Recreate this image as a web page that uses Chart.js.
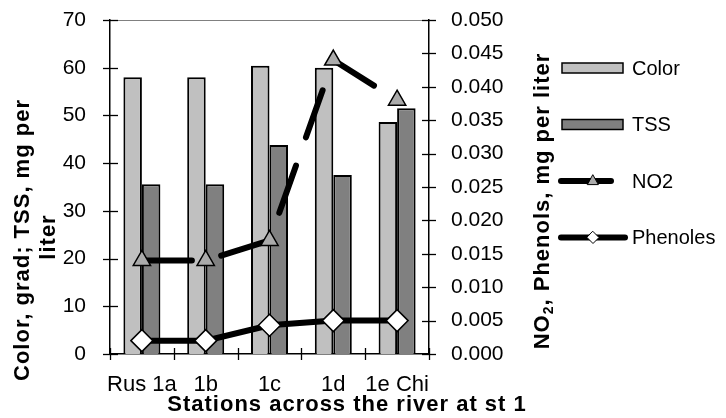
<!DOCTYPE html>
<html>
<head>
<meta charset="utf-8">
<script src="https://cdn.jsdelivr.net/npm/chart.js@4/dist/chart.umd.min.js"></script>
<style>
  html, body { margin: 0; padding: 0; background: #fff; }
</style>
</head>
<body>
<canvas id="graficoRio" width="726" height="418"></canvas>
<script>
// Estaciones y mediciones
const estaciones = ["Rus 1a", "1b", "1c", "1d", "1e Chi"];
const color = [58.0, 58.0, 60.4, 60.0, 48.6];
const tss = [35.6, 35.6, 43.8, 37.5, 51.5];
const no2 = [0.014, 0.014, 0.017, 0.044, 0.038];
const fenoles = [0.002, 0.002, 0.0043, 0.005, 0.005];

const familia = "'Liberation Sans', Arial, sans-serif";

function linea(ctx, x1, y1, x2, y2) {
    ctx.beginPath();
    ctx.moveTo(x1, y1);
    ctx.lineTo(x2, y2);
    ctx.stroke();
}

function marcador(ctx, estilo, x, y, r) {
    ctx.beginPath();
    if (estilo === "triangle") {
        ctx.moveTo(x, y - r);
        ctx.lineTo(x + r * 0.9, y + r * 0.6);
        ctx.lineTo(x - r * 0.9, y + r * 0.6);
    } else {
        ctx.moveTo(x, y - r);
        ctx.lineTo(x + r, y);
        ctx.lineTo(x, y + r);
        ctx.lineTo(x - r, y);
    }
    ctx.closePath();
    ctx.fill();
    ctx.stroke();
}

// tamaño fijo de cada eje, sin el margen extra de las etiquetas
function fijar(ancho, alto) {
    return s => {
        if (ancho) s.width = ancho;
        if (alto) s.height = alto;
        s.paddingTop = 0;
        s.paddingBottom = 0;
        s.paddingLeft = 0;
        s.paddingRight = 0;
    };
}

// Marcas en cruz, borde superior, títulos de ejes y leyenda
const extras = {
    id: "extras",
    afterDraw(chart) {
        const ctx = chart.ctx;
        const area = chart.chartArea;
        const {x, y, y2} = chart.scales;

        ctx.save();

        ctx.strokeStyle = "#808080";
        ctx.lineWidth = 1;
        linea(ctx, area.left, area.top + 0.5, area.right, area.top + 0.5);

        ctx.strokeStyle = "#000";
        ctx.lineWidth = 1.3;
        y.ticks.forEach((t, i) => {
            const py = Math.round(y.getPixelForTick(i)) + 0.5;
            linea(ctx, area.left - 7, py, area.left + 8, py);
        });
        y2.ticks.forEach((t, i) => {
            const py = Math.round(y2.getPixelForTick(i)) + 0.5;
            linea(ctx, area.right - 7, py, area.right + 7, py);
        });
        for (let i = 0; i <= estaciones.length; i++) {
            const px = Math.round(x.getPixelForValue(i - 0.5)) + 0.5;
            linea(ctx, px, area.bottom - 6, px, area.bottom + 6);
        }

        // Títulos
        ctx.fillStyle = "#000";
        ctx.textAlign = "center";
        ctx.textBaseline = "middle";
        ctx.font = "bold 22px " + familia;
        ctx.letterSpacing = "1px";

        ctx.fillText("Stations across the river at st 1", 347, 405);

        ctx.save();
        ctx.translate(23, 240);
        ctx.rotate(-Math.PI / 2);
        ctx.fillText("Color, grad; TSS, mg per", 0, 0);
        ctx.restore();

        ctx.save();
        ctx.translate(49, 237);
        ctx.rotate(-Math.PI / 2);
        ctx.fillText("liter", 0, 0);
        ctx.restore();

        ctx.save();
        ctx.translate(543, 201);
        ctx.rotate(-Math.PI / 2);
        ctx.textAlign = "left";
        const fNormal = "bold 22px " + familia;
        const fSub = "bold 14px " + familia;
        ctx.font = fNormal;
        const w1 = ctx.measureText("NO").width;
        const resto = ", Phenols, mg per liter";
        const w3 = ctx.measureText(resto).width;
        ctx.font = fSub;
        const w2 = ctx.measureText("2").width;
        let x0 = -(w1 + w2 + w3) / 2;
        ctx.font = fNormal;
        ctx.fillText("NO", x0, 0);
        ctx.font = fSub;
        ctx.fillText("2", x0 + w1, 6);
        ctx.font = fNormal;
        ctx.fillText(resto, x0 + w1 + w2, 0);
        ctx.restore();

        // Leyenda
        ctx.letterSpacing = "0px";
        ctx.font = "20px " + familia;
        ctx.textAlign = "left";
        chart.data.datasets.forEach((ds, i) => {
            const cy = 68 + i * 56.5;
            if (ds.type === "bar") {
                ctx.fillStyle = ds.backgroundColor;
                ctx.fillRect(562, cy - 5, 61, 10);
                ctx.strokeStyle = "#000";
                ctx.lineWidth = 1.5;
                ctx.strokeRect(562, cy - 5, 61, 10);
            } else {
                ctx.strokeStyle = ds.borderColor;
                ctx.lineWidth = ds.borderWidth;
                ctx.lineCap = "round";
                ctx.setLineDash(ds.borderDash || []);
                linea(ctx, 561, cy, 625, cy);
                ctx.setLineDash([]);
                ctx.fillStyle = ds.pointBackgroundColor;
                ctx.strokeStyle = "#000";
                ctx.lineWidth = 1;
                marcador(ctx, ds.pointStyle, 593, cy, 6);
            }
            ctx.fillStyle = "#000";
            ctx.fillText(ds.label, 632, cy + 1);
        });

        ctx.restore();
    }
};

const ctx = document.getElementById("graficoRio");

new Chart(ctx, {
    data: {
        labels: estaciones,
        datasets: [
            {
                type: "bar",
                label: "Color",
                data: color,
                yAxisID: "y",
                backgroundColor: "#c0c0c0",
                borderColor: "#000",
                borderWidth: 2,
                order: 2
            },
            {
                type: "bar",
                label: "TSS",
                data: tss,
                yAxisID: "y",
                backgroundColor: "#808080",
                borderColor: "#000",
                borderWidth: 2,
                order: 2
            },
            {
                type: "line",
                label: "NO2",
                data: no2,
                yAxisID: "y2",
                borderColor: "#000",
                borderWidth: 6,
                borderDash: [50, 30],
                borderCapStyle: "round",
                pointStyle: "triangle",
                pointRadius: 10,
                pointBackgroundColor: "#ababab",
                pointBorderColor: "#000",
                pointBorderWidth: 1.5,
                tension: 0,
                order: 1
            },
            {
                type: "line",
                label: "Phenoles",
                data: fenoles,
                yAxisID: "y2",
                borderColor: "#000",
                borderWidth: 6,
                pointStyle: "rectRot",
                pointRadius: 11,
                pointBackgroundColor: "#fff",
                pointBorderColor: "#000",
                pointBorderWidth: 1.5,
                tension: 0,
                order: 0
            }
        ]
    },
    options: {
        responsive: false,
        animation: false,
        layout: {
            padding: {left: 0, right: 170, top: 20, bottom: 0}
        },
        datasets: {
            bar: {categoryPercentage: 0.58, barPercentage: 1}
        },
        plugins: {
            legend: {display: false},
            tooltip: {enabled: false}
        },
        scales: {
            x: {
                grid: {display: false, drawTicks: false},
                border: {color: "#000", width: 1.5},
                ticks: {
                    font: {family: familia, size: 22},
                    color: "#000",
                    padding: 18,
                    maxRotation: 0,
                    autoSkip: false
                },
                afterFit: fijar(0, 64)
            },
            y: {
                position: "left",
                min: 0,
                max: 70,
                grid: {display: false, drawTicks: false},
                border: {color: "#000", width: 1.5},
                ticks: {
                    stepSize: 10,
                    font: {family: familia, size: 21},
                    color: "#000",
                    padding: 24
                },
                afterFit: fijar(110, 0)
            },
            y2: {
                position: "right",
                min: 0,
                max: 0.05,
                grid: {display: false, drawTicks: false},
                border: {color: "#000", width: 1.5},
                ticks: {
                    stepSize: 0.005,
                    font: {family: familia, size: 21},
                    color: "#000",
                    padding: 22,
                    callback: v => v.toFixed(3)
                },
                afterFit: fijar(127, 0)
            }
        }
    },
    plugins: [extras]
});
</script>
</body>
</html>
